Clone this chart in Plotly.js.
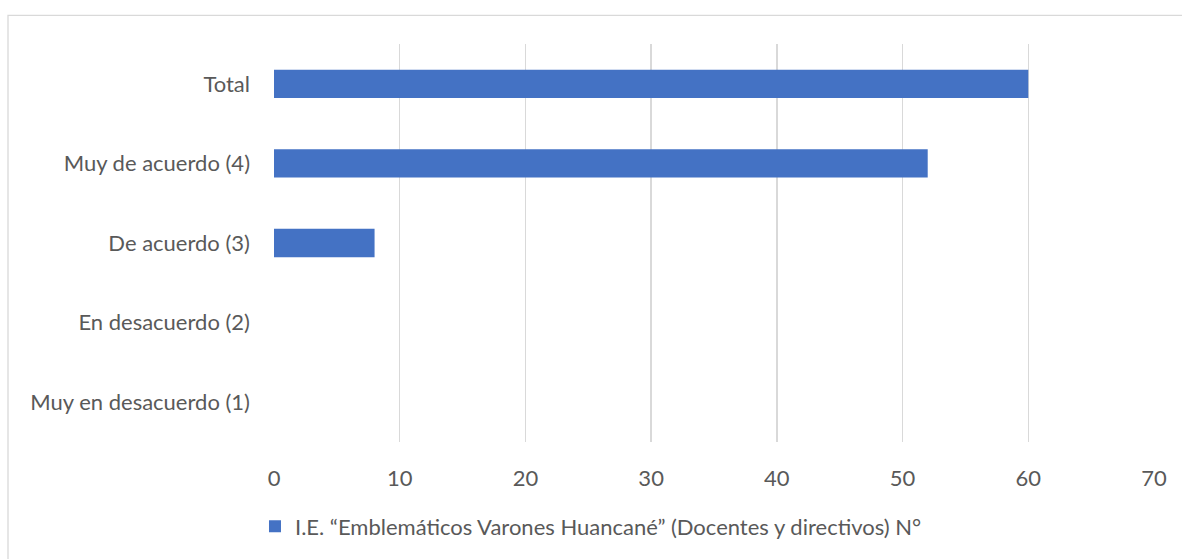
<!DOCTYPE html>
<html>
<head>
<meta charset="utf-8">
<script src="https://cdn.plot.ly/plotly-3.0.1.min.js"></script>
<style>
html,body{margin:0;padding:0;background:#fff;}
#chart{width:1182px;height:559px;}
</style>
</head>
<body>
<div id="chart"></div>
<script>
const categories = ["Muy en desacuerdo (1)", "En desacuerdo (2)", "De acuerdo (3)", "Muy de acuerdo (4)", "Total"];
const values = [0, 0, 8, 52, 60];
const seriesName = "I.E. “Emblemáticos Varones Huancané” (Docentes y directivos) N°";
const xTicks = [0, 10, 20, 30, 40, 50, 60, 70];

const trace = {
  type: 'bar',
  orientation: 'h',
  y: categories,
  x: values,
  name: seriesName,
  marker: {color: '#4472C4'},
  showlegend: true,
  hoverinfo: 'x+y'
};

const layout = {
  width: 1182,
  height: 559,
  margin: {l: 274, r: 28, t: 44, b: 113},
  paper_bgcolor: '#ffffff',
  plot_bgcolor: '#ffffff',
  font: {family: 'Lato, "Open Sans", sans-serif', size: 22, color: '#595959'},
  bargap: 0.645,
  xaxis: {
    range: [0, 70],
    tickvals: xTicks,
    ticktext: xTicks.map(String),
    showgrid: true,
    gridcolor: '#d9d9d9',
    gridwidth: 1.3,
    zeroline: false,
    showline: false,
    ticks: '',
    ticklabelstandoff: 21,
    fixedrange: true
  },
  yaxis: {
    type: 'category',
    categoryorder: 'array',
    categoryarray: categories,
    showgrid: false,
    zeroline: false,
    showline: false,
    ticks: '',
    ticklabelstandoff: 23,
    fixedrange: true
  },
  showlegend: true,
  legend: {
    orientation: 'h',
    x: -0.0216,
    xanchor: 'left',
    y: -0.212,
    yanchor: 'middle',
    font: {size: 22, color: '#595959'},
    itemwidth: 30,
    bgcolor: 'rgba(0,0,0,0)'
  },
  shapes: [{
    type: 'rect',
    xref: 'paper', yref: 'paper',
    x0: (8 - 274) / 880, x1: (1190 - 274) / 880,
    y0: (446 - 570) / 402, y1: (446 - 15) / 402,
    line: {color: '#d9d9d9', width: 1.3},
    fillcolor: 'rgba(0,0,0,0)',
    layer: 'below'
  }]
};

Plotly.newPlot('chart', [trace], layout, {displayModeBar: false, staticPlot: true});
</script>
</body>
</html>
